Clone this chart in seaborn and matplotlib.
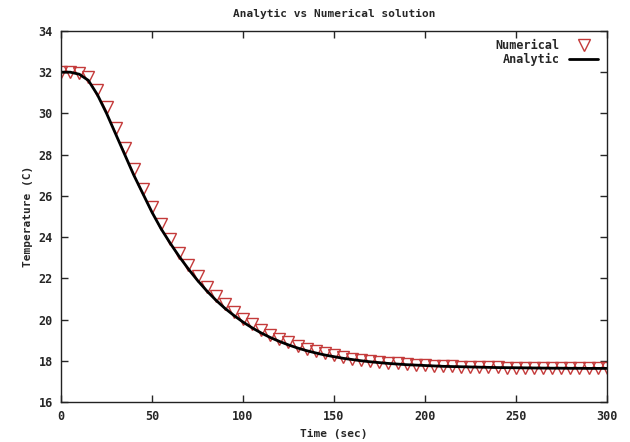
import numpy as np
import pandas as pd
import matplotlib
matplotlib.use("Agg")
import matplotlib.pyplot as plt
import seaborn as sns

# time samples (sec), every 5 s
time_sec = list(range(0, 301, 5))

# values
numerical = [32.0, 32.0, 31.95, 31.75, 31.15, 30.3, 29.3, 28.3, 27.3, 26.35,
             25.45, 24.65, 23.9, 23.25, 22.65, 22.1, 21.6, 21.15, 20.75, 20.38,
             20.05, 19.76, 19.5, 19.27, 19.07, 18.89, 18.73, 18.59, 18.47, 18.36,
             18.27, 18.18, 18.11, 18.05, 17.99, 17.94, 17.9, 17.87, 17.84, 17.81,
             17.79, 17.77, 17.75, 17.73, 17.72, 17.71, 17.7, 17.69, 17.68, 17.67,
             17.67, 17.66, 17.66, 17.65, 17.65, 17.64, 17.64, 17.64, 17.63, 17.63,
             17.63]
analytic = [32.0, 32.0, 31.9, 31.6, 30.9, 30.0, 29.0, 28.0, 27.0, 26.1,
            25.2, 24.4, 23.7, 23.05, 22.45, 21.9, 21.4, 20.95, 20.55, 20.2,
            19.88, 19.6, 19.35, 19.13, 18.94, 18.77, 18.62, 18.49, 18.38, 18.28,
            18.2, 18.12, 18.06, 18.0, 17.95, 17.91, 17.87, 17.84, 17.81, 17.79,
            17.77, 17.75, 17.73, 17.72, 17.71, 17.7, 17.69, 17.68, 17.67, 17.665,
            17.66, 17.655, 17.65, 17.645, 17.64, 17.64, 17.635, 17.635, 17.63, 17.63,
            17.63]

df = pd.DataFrame({'time': time_sec, 'Numerical': numerical, 'Analytic': analytic})

sns.set_style("ticks")
plt.rcParams['font.family'] = ['DejaVu Sans Mono']
plt.rcParams['font.weight'] = 'bold'
plt.rcParams['xtick.direction'] = 'in'
plt.rcParams['ytick.direction'] = 'in'

fig = plt.figure(figsize=(6.3, 4.42), dpi=100)
ax = fig.add_axes([0.097, 0.0905, 0.866, 0.8395])

sns.lineplot(data=df, x='time', y='Numerical', ax=ax, linestyle='none',
             marker='v', markersize=9, markerfacecolor='none',
             markeredgecolor='#c43a3a', markeredgewidth=1.0, label='Numerical')
sns.lineplot(data=df, x='time', y='Analytic', ax=ax, color='black',
             linewidth=2, label='Analytic')

ax.set_xlim(0, 300)
ax.set_ylim(16, 34)
ax.set_xticks(range(0, 301, 50))
ax.set_yticks(range(16, 35, 2))
ax.tick_params(top=True, right=True, length=5, width=1, labelsize=8.5, pad=6)
for s in ax.spines.values():
    s.set_linewidth(1.0)
    s.set_color('#222222')

ax.set_title('Analytic vs Numerical solution', fontsize=8, fontweight='bold', pad=10)
ax.set_xlabel('Time (sec)', fontsize=8, fontweight='bold')
ax.set_ylabel('Temperature (C)', fontsize=8, fontweight='bold')

leg = ax.legend(loc='upper right', frameon=False, markerfirst=False,
                fontsize=8.5, handlelength=2.5, borderaxespad=0.3,
                labelspacing=0.1)
for t in leg.get_texts():
    t.set_fontweight('bold')

fig.savefig('out.png', dpi=100)
